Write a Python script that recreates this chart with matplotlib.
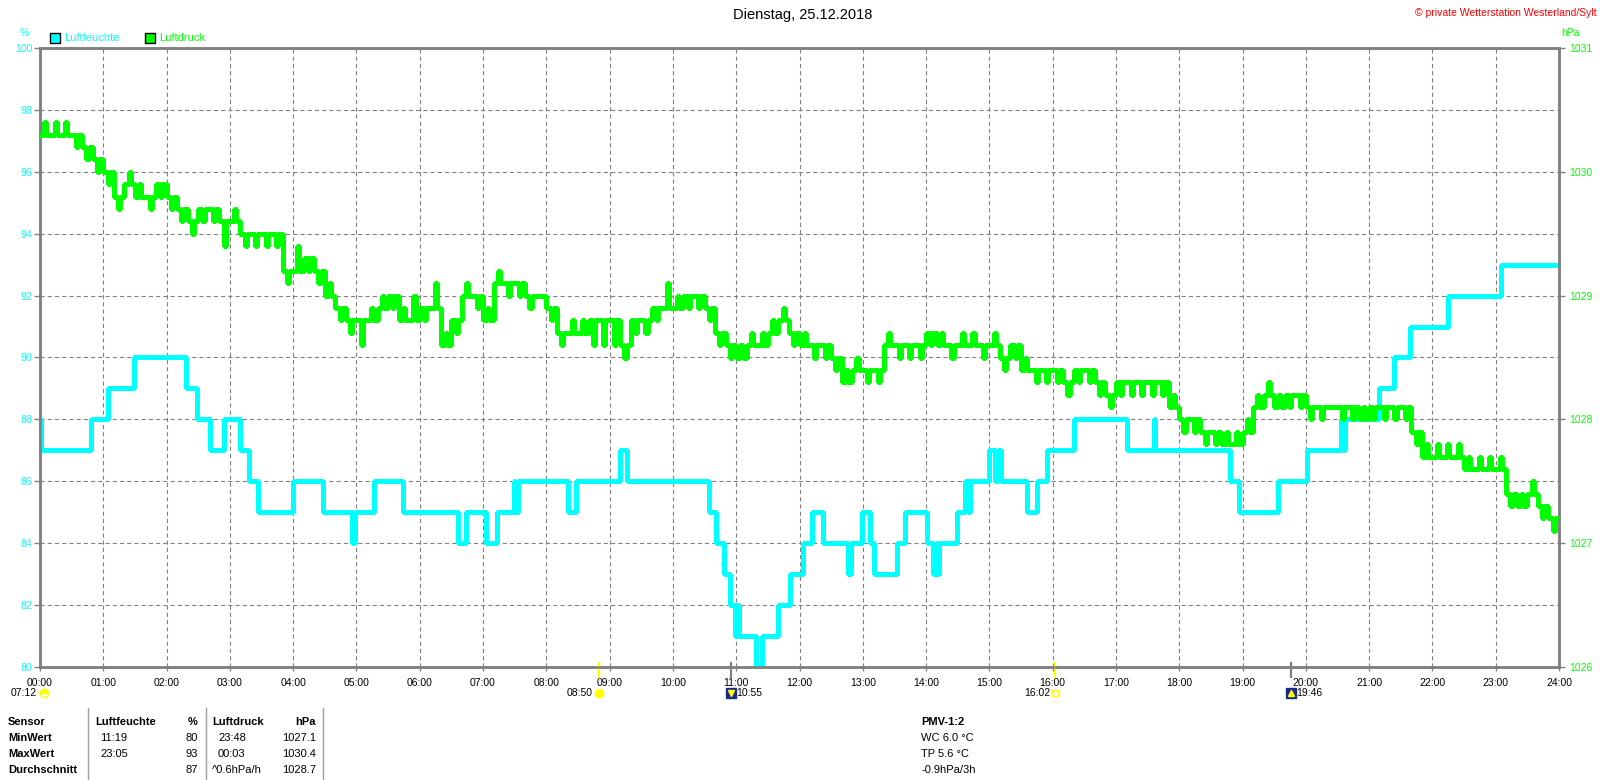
import matplotlib
matplotlib.use("Agg")
import matplotlib.pyplot as plt
from matplotlib.patches import Rectangle
from matplotlib.lines import Line2D
from matplotlib.transforms import blended_transform_factory

plt.rcParams['font.family'] = ['Liberation Sans', 'DejaVu Sans']
plt.rcParams['lines.scale_dashes'] = False

W, H = 1600, 780

# Luftfeuchte (%), step changes
hum_times = ["00:00", "00:01", "00:48", "01:04", "01:29", "02:18", "02:29", "02:41", "02:54", "03:10",
             "03:18", "03:27", "04:00", "04:28", "04:56", "04:59", "05:17", "05:44", "06:36", "06:44",
             "07:03", "07:13", "07:29", "07:30", "07:33", "08:21", "08:28", "09:10", "09:16", "10:34",
             "10:41", "10:48", "10:54", "10:59", "11:00", "11:01", "11:02", "11:03", "11:19", "11:24",
             "11:40", "11:51", "12:03", "12:12", "12:22", "12:46", "12:49", "12:59", "13:07", "13:11",
             "13:32", "13:40", "14:01", "14:07", "14:09", "14:10", "14:12", "14:29", "14:37", "14:40",
             "14:42", "15:00", "15:05", "15:08", "15:11", "15:36", "15:45", "15:55", "16:20", "17:10",
             "17:36", "17:37", "18:48", "18:57", "19:34", "20:01", "20:33", "20:35", "20:37", "21:09",
             "21:24", "21:39", "22:15", "23:05", "24:00"]
hum_vals = [88, 87, 88, 89, 90, 89, 88, 87, 88, 87,
            86, 85, 86, 85, 84, 85, 86, 85, 84, 85,
            84, 85, 86, 85, 86, 85, 86, 87, 86, 85,
            84, 83, 82, 81, 82, 81, 82, 81, 80, 81,
            82, 83, 84, 85, 84, 83, 84, 85, 84, 83,
            84, 85, 84, 83, 84, 83, 84, 85, 86, 85,
            86, 87, 86, 87, 86, 85, 86, 87, 88, 87,
            88, 87, 86, 85, 86, 87, 88, 87, 88, 89,
            90, 91, 92, 93, 93]

# Luftdruck (hPa), 10-minute slots: level and short excursion inside each slot
p_level = [
    1030.3, 1030.3, 1030.3, 1030.3, 1030.2, 1030.1,  # 00
    1030.0, 1029.8, 1029.9, 1029.8, 1029.8, 1029.9,  # 01
    1029.8, 1029.7, 1029.6, 1029.7, 1029.7, 1029.6,  # 02
    1029.6, 1029.5, 1029.5, 1029.5, 1029.5, 1029.2,  # 03
    1029.2, 1029.3, 1029.2, 1029.0, 1028.9, 1028.8,  # 04
    1028.8, 1028.8, 1028.9, 1029.0, 1028.8, 1028.8,  # 05
    1028.9, 1028.9, 1028.6, 1028.8, 1029.0, 1029.0,  # 06
    1028.8, 1029.1, 1029.1, 1029.1, 1029.0, 1029.0,  # 07
    1028.9, 1028.7, 1028.7, 1028.7, 1028.8, 1028.8,  # 08
    1028.8, 1028.6, 1028.8, 1028.8, 1028.9, 1028.9,  # 09
    1028.9, 1029.0, 1029.0, 1028.9, 1028.7, 1028.6,  # 10
    1028.5, 1028.6, 1028.6, 1028.7, 1028.8, 1028.7,  # 11
    1028.6, 1028.6, 1028.6, 1028.5, 1028.3, 1028.4,  # 12
    1028.4, 1028.4, 1028.6, 1028.6, 1028.6, 1028.6,  # 13
    1028.7, 1028.6, 1028.6, 1028.6, 1028.6, 1028.6,  # 14
    1028.6, 1028.5, 1028.6, 1028.4, 1028.4, 1028.4,  # 15
    1028.4, 1028.3, 1028.4, 1028.4, 1028.3, 1028.2,  # 16
    1028.3, 1028.3, 1028.3, 1028.3, 1028.3, 1028.1,  # 17
    1028.0, 1028.0, 1027.9, 1027.9, 1027.8, 1027.8,  # 18
    1027.9, 1028.1, 1028.2, 1028.1, 1028.2, 1028.2,  # 19
    1028.1, 1028.1, 1028.1, 1028.1, 1028.1, 1028.0,  # 20
    1028.1, 1028.1, 1028.1, 1028.1, 1027.9, 1027.7,  # 21
    1027.7, 1027.7, 1027.7, 1027.6, 1027.6, 1027.6,  # 22
    1027.6, 1027.4, 1027.3, 1027.4, 1027.3, 1027.2,  # 23
]
p_peak = [
    1030.4, 1030.4, 1030.4, 1030.2, 1030.1, 1030.0,
    1029.9, 1029.7, 1030.0, 1029.9, 1029.7, 1029.8,
    1029.7, 1029.6, 1029.5, 1029.6, 1029.6, 1029.4,
    1029.7, 1029.4, 1029.4, 1029.4, 1029.4, 1029.1,
    1029.4, 1029.2, 1029.1, 1029.1, 1028.8, 1028.7,
    1028.6, 1028.9, 1029.0, 1028.9, 1028.9, 1029.0,
    1028.8, 1029.1, 1028.7, 1028.7, 1029.1, 1028.9,
    1028.9, 1029.2, 1029.0, 1029.0, 1028.9, 1029.0,
    1028.8, 1028.6, 1028.8, 1028.8, 1028.6, 1028.6,
    1028.6, 1028.5, 1028.7, 1028.7, 1028.8, 1029.1,
    1029.0, 1028.9, 1028.9, 1028.8, 1028.6, 1028.5,
    1028.6, 1028.7, 1028.7, 1028.8, 1028.9, 1028.6,
    1028.7, 1028.5, 1028.5, 1028.4, 1028.4, 1028.5,
    1028.3, 1028.3, 1028.7, 1028.5, 1028.5, 1028.5,
    1028.6, 1028.7, 1028.5, 1028.7, 1028.7, 1028.5,
    1028.7, 1028.4, 1028.5, 1028.5, 1028.3, 1028.3,
    1028.3, 1028.2, 1028.3, 1028.3, 1028.2, 1028.1,
    1028.2, 1028.2, 1028.2, 1028.2, 1028.2, 1028.2,
    1027.9, 1027.9, 1027.8, 1027.8, 1027.9, 1027.9,
    1028.0, 1028.2, 1028.3, 1028.2, 1028.1, 1028.1,
    1028.0, 1028.0, 1028.1, 1028.0, 1028.0, 1028.1,
    1028.0, 1028.0, 1028.0, 1028.0, 1027.8, 1027.8,
    1027.8, 1027.8, 1027.8, 1027.7, 1027.7, 1027.7,
    1027.7, 1027.3, 1027.4, 1027.5, 1027.2, 1027.1,
]

hour_labels = ["%02d:00" % h for h in range(25)]

# Tageslaenge, Sonne und Mond
day_length = "07:12"
sun_rise, sun_set = "08:50", "16:02"
moon_set, moon_rise = "10:55", "19:46"

# Tabelle
row_names = ["MinWert", "MaxWert", "Durchschnitt"]
hum_time_col = ["11:19", "23:05", ""]
hum_val_col = ["80", "93", "87"]
p_time_col = ["23:48", "00:03", "^0.6hPa/h"]
p_val_col = ["1027.1", "1030.4", "1028.7"]
pmv_lines = ["WC 6.0 °C", "TP 5.6 °C", "-0.9hPa/3h"]

CYAN = "#00FFFF"
GREEN = "#00FF00"
GRAY = "#808080"


def hrs(s):
    h, m = s.split(":")
    return int(h) + int(m) / 60.0


fig = plt.figure(figsize=(W / 100, H / 100), dpi=100)
ax = fig.add_axes([40 / W, 1 - 667 / H, (1559 - 40) / W, (667 - 48) / H])
ax2 = ax.twinx()

# Luftfeuchte
hx = [hrs(s) for s in hum_times]
ax.plot(hx, hum_vals, drawstyle="steps-post", color=CYAN, lw=2.3, antialiased=False, zorder=3)

# Luftdruck
px, py = [], []
for i in range(len(p_level)):
    t0 = i * 10
    px += [t0 / 60, (t0 + 4) / 60, (t0 + 6) / 60]
    py += [p_level[i], p_peak[i], p_level[i]]
px.append(24.0)
py.append(p_level[-1])
ax2.plot(px, py, drawstyle="steps-post", color=GREEN, lw=2.3, antialiased=False, zorder=3)

ax.set_xlim(0, 24)
ax.set_ylim(80, 100)
ax2.set_ylim(1026, 1031)
ax.set_xticks(range(25))
ax.set_xticklabels(hour_labels)
ax.set_yticks(range(80, 101, 2))
ax2.set_yticks(range(1026, 1032))
ax.grid(True, color=GRAY, linestyle=(0, (3, 2.2)), linewidth=0.8)
ax.set_axisbelow(True)

for a in (ax, ax2):
    for sp in a.spines.values():
        sp.set_color(GRAY)
        sp.set_linewidth(1.8)
ax.tick_params(axis="x", length=3, width=1, color=GRAY, labelsize=7.5, pad=5)
ax.tick_params(axis="y", length=4, width=1, color=GRAY, labelcolor=CYAN, labelsize=7.5, pad=1.5)
ax2.tick_params(axis="y", length=4, width=1, color=GRAY, labelcolor=GREEN, labelsize=7.5, pad=3)

# header
fig.text(803 / W, 1 - 15 / H, "Dienstag, 25.12.2018", ha="center", va="center", fontsize=10.5)
fig.text(1597 / W, 1 - 12.5 / H, "© private Wetterstation Westerland/Sylt", ha="right", va="center",
         fontsize=7.5, color="red")
fig.text(24 / W, 1 - 33 / H, "%", ha="center", va="center", fontsize=7.5, color=CYAN)
fig.text(1570 / W, 1 - 33 / H, "hPa", ha="center", va="center", fontsize=7.5, color=GREEN)

fig.add_artist(Rectangle((50 / W, 1 - 43 / H), 10 / W, 10 / H, facecolor=CYAN, edgecolor="black",
                         lw=1, transform=fig.transFigure))
fig.text(64 / W, 1 - 38 / H, "Luftfeuchte", ha="left", va="center", fontsize=8, color=CYAN)
fig.add_artist(Rectangle((145 / W, 1 - 43 / H), 10 / W, 10 / H, facecolor=GREEN, edgecolor="black",
                         lw=1, transform=fig.transFigure))
fig.text(159 / W, 1 - 38 / H, "Luftdruck", ha="left", va="center", fontsize=8, color=GREEN)

# Sonne / Mond Zeile
tr_row = blended_transform_factory(ax.transData, fig.transFigure)
tr_tick = blended_transform_factory(ax.transData, ax.transAxes)
row_y = 1 - 693 / H

for t, col in [(sun_rise, "#FFFF00"), (sun_set, "#FFFF00"), (moon_set, GRAY), (moon_rise, GRAY)]:
    ax.plot([hrs(t)] * 2, [-0.016, 0.006], transform=tr_tick, color=col, lw=1.6, clip_on=False, zorder=5)

ax.plot([0.07], [row_y], transform=tr_row, marker="o", ms=6, fillstyle="top", color="#FFFF00",
        mec="#FFFF00", ls="none", clip_on=False)
ax.annotate(day_length, (0, row_y), xycoords=tr_row, xytext=(-2, 0), textcoords="offset points",
            ha="right", va="center", fontsize=7.5, annotation_clip=False)

ax.plot([hrs(sun_rise)], [row_y], transform=tr_row, marker="o", ms=6, color="#FFFF00", ls="none",
        clip_on=False)
ax.annotate(sun_rise, (hrs(sun_rise), row_y), xycoords=tr_row, xytext=(-4.5, 0),
            textcoords="offset points", ha="right", va="center", fontsize=7.5, annotation_clip=False)

ax.plot([hrs(sun_set)], [row_y], transform=tr_row, marker="s", ms=4, mfc="none", mec="#FFFF00",
        ls="none", clip_on=False)
ax.annotate(sun_set, (hrs(sun_set), row_y), xycoords=tr_row, xytext=(-3.5, 0),
            textcoords="offset points", ha="right", va="center", fontsize=7.5, annotation_clip=False)

for t, arrow in [(moon_set, "v"), (moon_rise, "^")]:
    ax.plot([hrs(t)], [row_y], transform=tr_row, marker="s", ms=7, color="#1C2A8C", ls="none",
            clip_on=False)
    ax.plot([hrs(t)], [row_y], transform=tr_row, marker=arrow, ms=4, color="#FFFF00", ls="none",
            clip_on=False)
    ax.annotate(t, (hrs(t), row_y), xycoords=tr_row, xytext=(4, 0), textcoords="offset points",
                ha="left", va="center", fontsize=7.5, annotation_clip=False)

# Tabelle
rows_y = [722, 738, 754, 770]


def ftxt(x, y, s, ha="left", bold=False):
    fig.text(x / W, 1 - y / H, s, ha=ha, va="center", fontsize=8,
             fontweight="bold" if bold else "normal")


ftxt(8, rows_y[0], "Sensor", bold=True)
ftxt(95, rows_y[0], "Luftfeuchte", bold=True)
ftxt(198, rows_y[0], "%", ha="right", bold=True)
ftxt(212, rows_y[0], "Luftdruck", bold=True)
ftxt(316, rows_y[0], "hPa", ha="right", bold=True)
for i, name in enumerate(row_names):
    y = rows_y[i + 1]
    ftxt(8, y, name, bold=True)
    ftxt(100, y, hum_time_col[i])
    ftxt(198, y, hum_val_col[i], ha="right")
    ftxt(218 if ":" in p_time_col[i] else 212, y, p_time_col[i])
    ftxt(316, y, p_val_col[i], ha="right")

ftxt(921, rows_y[0], "PMV-1:2", bold=True)
for i, s in enumerate(pmv_lines):
    ftxt(921, rows_y[i + 1], s)

for xs in (88, 206, 323):
    fig.add_artist(Line2D([xs / W, xs / W], [1 - 708 / H, 0], color="#A0A0A0", lw=1,
                          transform=fig.transFigure))

fig.savefig("out.png", dpi=100)
